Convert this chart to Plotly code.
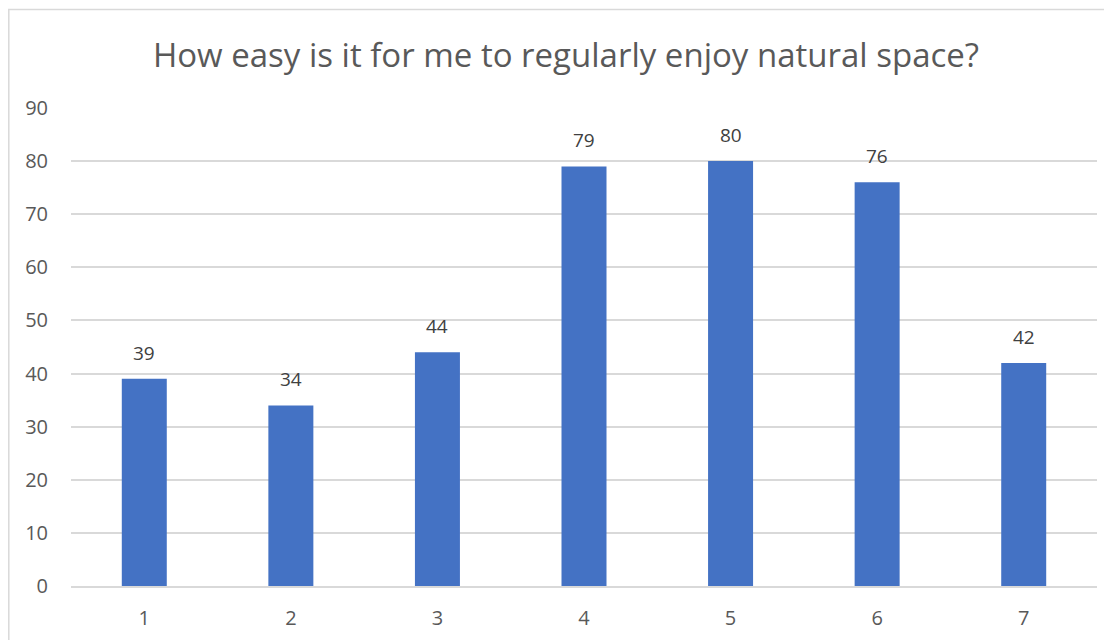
import plotly.graph_objects as go

categories = ["1", "2", "3", "4", "5", "6", "7"]
values = [39, 34, 44, 79, 80, 76, 42]
y_ticks = [0, 10, 20, 30, 40, 50, 60, 70, 80, 90]
title_text = "How easy is it for me to regularly enjoy natural space?"

# page is offset by the 8px body margin
OFF = 8
W, H = 1112 - OFF, 640 - OFF
L, R, T, B = 71 - OFF, 15, 108 - OFF, 54
pw, ph = W - L - R, H - T - B
FONT = "Open Sans, Liberation Sans, Arial"

fig = go.Figure(go.Bar(
    x=categories, y=values,
    marker=dict(color="#4472c4", line=dict(width=0)),
    cliponaxis=False,
))

for i, v in enumerate(values):
    fig.add_annotation(x=i, y=v, text=str(v), showarrow=False, yanchor="middle", yshift=26,
                       font=dict(family=FONT, size=19, color="#404040"))

def px_x(p):
    return (p - L) / pw

def px_y(p):
    return (H - B - p) / ph

fig.add_shape(type="rect", xref="paper", yref="paper",
              x0=px_x(0.8), x1=px_x(1125), y0=px_y(660), y1=px_y(1.5),
              line=dict(color="#d9d9d9", width=1.5), fillcolor="rgba(0,0,0,0)", layer="below")

fig.update_layout(
    width=W, height=H,
    margin=dict(l=L, r=R, t=T, b=B, autoexpand=False),
    paper_bgcolor="white", plot_bgcolor="white",
    bargap=0.693,
    showlegend=False,
    title=dict(text=title_text, x=(566 - OFF) / W, xanchor="center", y=1 - (55 - OFF) / H, yanchor="middle",
               automargin=False,
               font=dict(family=FONT, size=33, color="#595959")),
    xaxis=dict(type="category", range=[-0.5, len(categories) - 0.5], showgrid=False,
               showline=True, linecolor="#d9d9d9", linewidth=1.5, automargin=False,
               ticks="", tickfont=dict(family=FONT, size=20, color="#595959"),
               ticklabelstandoff=13),
    yaxis=dict(range=[0, 90], tickvals=y_ticks, showgrid=True, gridcolor="#d9d9d9", gridwidth=1.5,
               zeroline=False, showline=False, ticks="", automargin=False,
               tickfont=dict(family=FONT, size=20, color="#595959"),
               ticklabelstandoff=22),
    font=dict(family=FONT),
)

fig.write_html("out.html")
